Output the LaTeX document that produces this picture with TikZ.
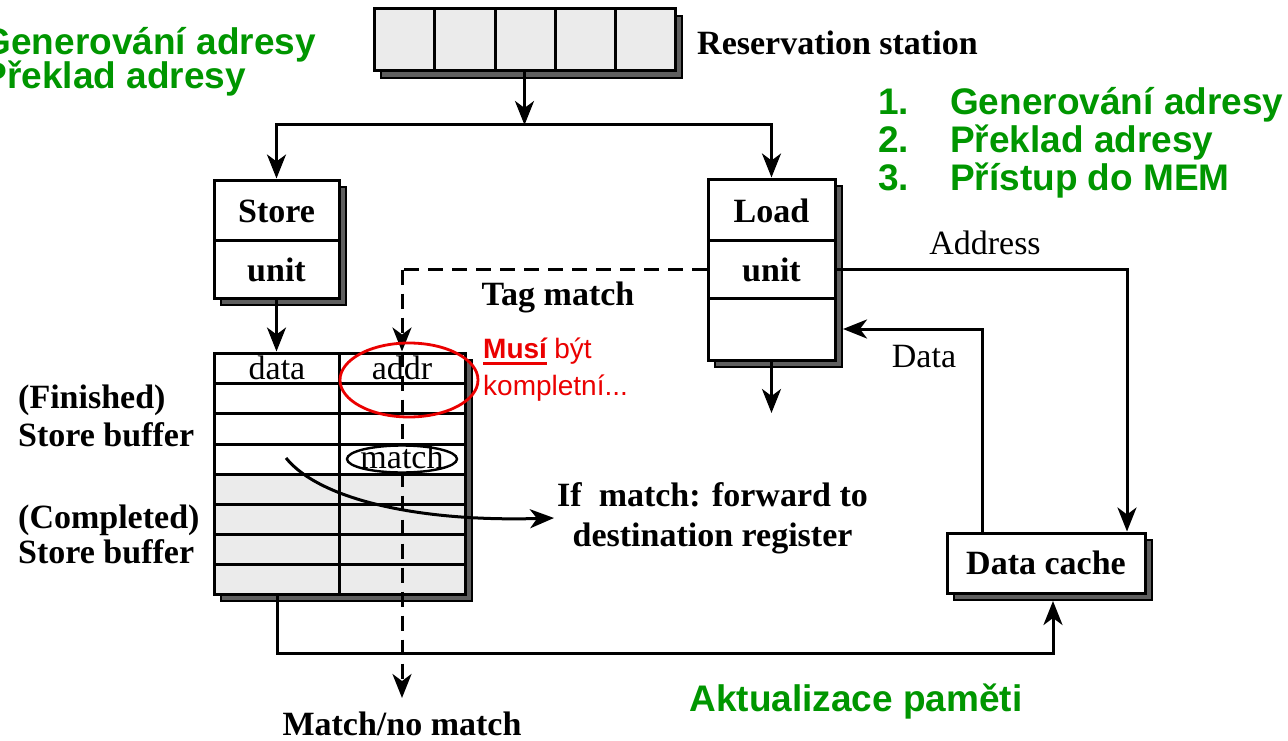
\documentclass[tikz,border=0pt]{standalone}
\usepackage{fontspec}
\setmainfont{Liberation Serif}
\newfontfamily\arialf{Liberation Sans}
\usetikzlibrary{arrows.meta,shadows}

\definecolor{cellgray}{RGB}{235,235,235}
\definecolor{shgray}{RGB}{95,95,95}
\definecolor{grn}{RGB}{0,150,0}
\definecolor{rd}{RGB}{235,0,0}

\begin{document}
\begin{tikzpicture}[x=1pt,y=-1pt,
 ln/.style={line width=3pt},
 arr/.style={ln, -{Stealth[length=24pt,width=19pt,inset=7pt]}},
 dsh/.style={dash pattern=on 15pt off 9pt},
 box/.style={draw, line width=3pt, fill=white, inner sep=0pt,
   copy shadow={shadow xshift=7pt, shadow yshift=-7pt, fill=shgray, draw=black, line width=1.8pt}},
 bt/.style={font=\fontsize{34}{40}\selectfont\bfseries, inner sep=0pt},
 rt/.style={font=\fontsize{34}{40}\selectfont, inner sep=0pt},
 gt/.style={font=\arialf\fontsize{37}{40}\selectfont\bfseries, text=grn, inner sep=0pt},
 redt/.style={font=\arialf\fontsize{28}{32}\selectfont, text=rd, inner sep=0pt},
]
\fill[white] (0,0) rectangle (1288,741);
\useasboundingbox (0,0) rectangle (1288,741);

% Reservation station
\node[box, fill=cellgray, minimum width=301pt, minimum height=62pt] (rs) at (524.5,40) {};
\foreach \x in {434,495,555,615} \draw[ln] (\x,9) -- (\x,71);
\node[bt, anchor=base west] (rslbl) at (697,55) {Reservation station};

% Store unit
\node[box, minimum width=125pt, minimum height=118pt] (store) at (276.5,239) {};
\draw[ln] (214,240) -- (339,240);
\node[bt] (storeT) at (276.5,211) {Store};
\node[bt] (storeU) at (276.5,270) {unit};

% Load unit
\node[box, minimum width=127pt, minimum height=181pt] (load) at (771.5,269.5) {};
\draw[ln] (708,240) -- (835,240);
\draw[ln] (708,298) -- (835,298);
\node[bt] (loadT) at (771.5,211) {Load};
\node[bt] (loadU) at (771.5,270) {unit};

% Store buffer
\node[box, minimum width=251pt, minimum height=241pt] (buf) at (339.5,473.5) {};
\fill[cellgray] (214,474) rectangle (465,594);
\foreach \y in {383,413,444,474,504,534,564} \draw[ln] (214,\y) -- (465,\y);
\draw[ln] (339.5,353) -- (339.5,594);
\draw[ln] (214,353) rectangle (465,594);
\node[rt] (datah) at (277,368) {data};
\node[rt] (addrh) at (402,368) {addr};

% Data cache
\node[box, minimum width=198pt, minimum height=60pt, font=\fontsize{34}{40}\selectfont\bfseries] (dc) at (1046,563) {Data cache};

% connectors from reservation station
\coordinate (j) at (524.5,125);
\draw[arr] (rs) -- (j);
\draw[arr] (j) -| (store);
\draw[arr] (j) -| (load);
\draw[arr] (store.south) -- (store.south |- buf.north);
\coordinate (lo) at (771.5,413);
\draw[arr] (load.south) -- (lo);

% tag match dashed
\coordinate (tc) at (402,269.5);
\coordinate (mm) at (402,698);
\draw[ln, dsh] (load.west) -- (tc);
\draw[arr, dsh] (tc) -- (tc |- buf.north);
\draw[arr, dsh] (tc |- buf.north) -- (mm);
\node[bt] (tag) at (558,297) {Tag match};

% match ellipse
\draw[line width=2.4pt, fill=white] (402,459) ellipse [x radius=55, y radius=13.5];
\node[rt] (match) at (402,457) {match};

% forward arrow
\node[bt, align=center, anchor=west] (fwd) at (557,518) {If\ \ match: forward to\\destination register};
\coordinate (cs) at (286,458);
\draw[arr] (cs) .. controls (320,500) and (420,522) .. ([xshift=-3pt]fwd.west);

% address / data
\coordinate (ac) at (1127,269.5);
\draw[arr] (load.east) -- (ac) -- (ac |- dc.north);
\node[rt] (addrl) at (985,243) {Address};
\coordinate (dcc) at (982,329);
\coordinate (dtip) at (843,329);
\draw[arr] (dcc |- dc.north) -- (dcc) -- (dtip);
\node[rt] (datal) at (924,357) {Data};

% update memory line
\coordinate (b1) at (277,653);
\coordinate (b2) at (1053,653);
\coordinate (b3) at (1053,601);
\draw[arr] (b1 |- buf.south) -- (b1) -- (b2) -- (b3);

\node[bt] (mnm) at (402,724) {Match/no match};

% left labels
\node[bt, anchor=base west] (fin1) at (18,408) {(Finished)};
\node[bt, anchor=base west] (fin2) at (18,446) {Store buffer};
\node[bt, anchor=base west] (com1) at (18,528) {(Completed)};
\node[bt, anchor=base west] (com2) at (18,563) {Store buffer};

% red annotation
\draw[rd, line width=2.8pt] (409,380) ellipse [x radius=69, y radius=37];
\node[redt, anchor=base west, font=\arialf\fontsize{28}{32}\selectfont\bfseries] (musi) at (483,358) {Musí};
\draw[rd, line width=3pt] ([yshift=-5pt]musi.base west) -- ([yshift=-5pt]musi.base east);
\node[redt, anchor=base west] (byt) at ([xshift=7pt]musi.base east) {být};
\node[redt, anchor=base west] (komp) at (483,395) {kompletní...};

% green texts
\node[gt, anchor=base east] (lg1) at (316,55) {Generování adresy};
\node[gt, anchor=base west] (lg2) at (lg1.base west |- 0,89) {Překlad adresy};
\node[gt, anchor=base west] (n1) at (878,115) {1.};
\node[gt, anchor=base west] (t1) at (950,115) {Generování adresy};
\node[gt, anchor=base west] (n2) at (878,153) {2.};
\node[gt, anchor=base west] (t2) at (950,153) {Překlad adresy};
\node[gt, anchor=base west] (n3) at (878,190) {3.};
\node[gt, anchor=base west] (t3) at (950,190) {Přístup do MEM};
\node[gt, anchor=base] (akt) at (856,711) {Aktualizace paměti};
\end{tikzpicture}
\end{document}
